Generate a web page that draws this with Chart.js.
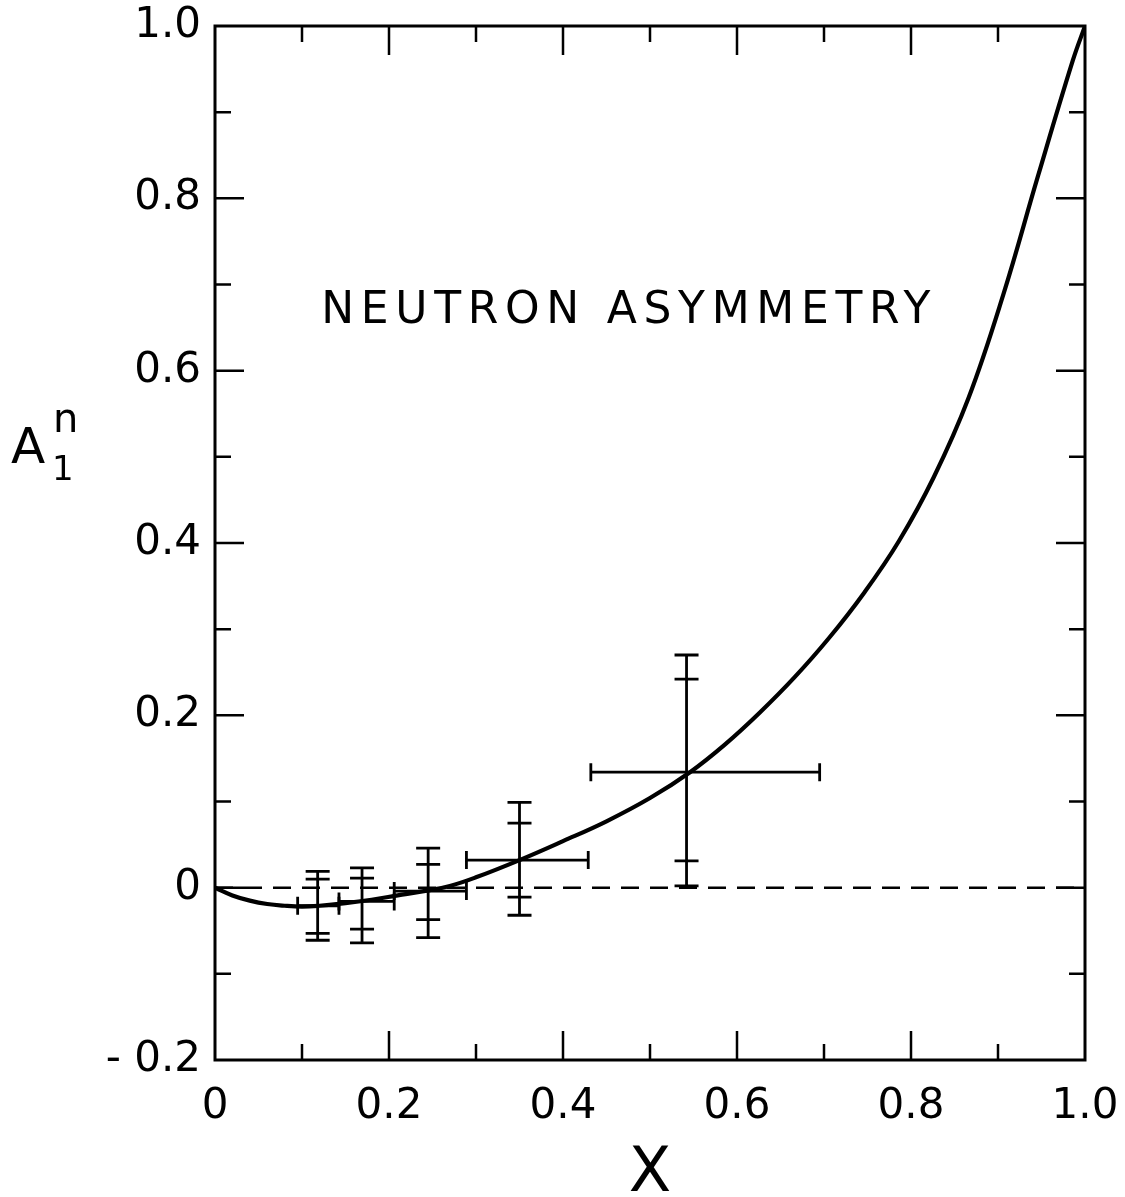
<!DOCTYPE html>
<html>
<head>
<meta charset="utf-8">
<script src="https://cdn.jsdelivr.net/npm/chart.js@4.4.0/dist/chart.umd.min.js"></script>
<style>
  body { margin: 0; background: #fff; }
  #wrap { width: 1125px; height: 1197px; }
</style>
</head>
<body>
<div id="wrap"><canvas id="asym-chart"></canvas></div>
<script>
// data points: centre, x-bin edges, inner (stat) and outer (total) error ranges
const xPts      = [0.118, 0.169, 0.245, 0.350, 0.542];
const yPts      = [-0.021, -0.016, -0.004, 0.032, 0.134];
const xLow      = [0.095, 0.1425, 0.206, 0.289, 0.432];
const xHigh     = [0.1425, 0.206, 0.289, 0.429, 0.695];
const yLowStat  = [-0.053, -0.048, -0.037, -0.011, 0.031];
const yHighStat = [0.010, 0.011, 0.027, 0.075, 0.242];
const yLowTot   = [-0.061, -0.064, -0.058, -0.032, 0.002];
const yHighTot  = [0.019, 0.023, 0.046, 0.099, 0.270];

// model curve
const curveX = [0, 0.02, 0.04, 0.06, 0.08, 0.10, 0.12, 0.15, 0.18, 0.21, 0.24, 0.27, 0.30,
                0.35, 0.40, 0.45, 0.50, 0.546, 0.586, 0.626, 0.666, 0.706, 0.746, 0.786,
                0.826, 0.866, 0.906, 0.946, 0.986, 1.0];
const curveY = [0, -0.009, -0.015, -0.019, -0.021, -0.022, -0.021, -0.018, -0.014, -0.009,
                -0.004, 0.002, 0.012, 0.032, 0.054, 0.077, 0.104, 0.134, 0.166, 0.203,
                0.244, 0.290, 0.342, 0.402, 0.476, 0.568, 0.688, 0.826, 0.960, 1.0];

const xTicks = [0, 0.2, 0.4, 0.6, 0.8, 1.0];
const xTickLabels = ['0', '0.2', '0.4', '0.6', '0.8', '1.0'];
const yTicks = [-0.2, 0, 0.2, 0.4, 0.6, 0.8, 1.0];
const yTickLabels = ['- 0.2', '0', '0.2', '0.4', '0.6', '0.8', '1.0'];
const minorStep = 0.1;

const FONT = "'DejaVu Sans', sans-serif";

function xy(xs, ys) {
  return xs.map(function(x, i) { return { x: x, y: ys[i] }; });
}

// frame, inward ticks, error bars and labels
const decorations = {
  id: 'decorations',
  afterDatasetsDraw(chart) {
    const ctx = chart.ctx;
    const xs = chart.scales.x, ys = chart.scales.y;
    const a = chart.chartArea;
    ctx.save();
    ctx.strokeStyle = '#000';
    ctx.lineCap = 'butt';

    // error bars
    ctx.lineWidth = 2.8;
    const cap = 12, hcap = 9;
    for (let i = 0; i < xPts.length; i++) {
      const px = xs.getPixelForValue(xPts[i]);
      const py = ys.getPixelForValue(yPts[i]);
      const x0 = xs.getPixelForValue(xLow[i]);
      const x1 = xs.getPixelForValue(xHigh[i]);
      const t = ys.getPixelForValue(yHighTot[i]);
      const b = ys.getPixelForValue(yLowTot[i]);
      ctx.beginPath();
      ctx.moveTo(px, t); ctx.lineTo(px, b);
      ctx.moveTo(x0, py); ctx.lineTo(x1, py);
      ctx.moveTo(x0, py - hcap); ctx.lineTo(x0, py + hcap);
      ctx.moveTo(x1, py - hcap); ctx.lineTo(x1, py + hcap);
      [yHighTot[i], yLowTot[i], yHighStat[i], yLowStat[i]].forEach(function(v) {
        const yy = ys.getPixelForValue(v);
        ctx.moveTo(px - cap, yy); ctx.lineTo(px + cap, yy);
      });
      ctx.stroke();
    }

    // inward ticks on all four sides
    ctx.lineWidth = 2.5;
    ctx.beginPath();
    for (let k = 1; k < 10; k++) {
      const v = k * minorStep;
      const len = k % 2 === 0 ? 29 : 16;
      const px = xs.getPixelForValue(v);
      ctx.moveTo(px, a.bottom); ctx.lineTo(px, a.bottom - len);
      ctx.moveTo(px, a.top); ctx.lineTo(px, a.top + len);
    }
    for (let k = -1; k < 10; k++) {
      const v = k * minorStep;
      const len = (k + 2) % 2 === 0 ? 29 : 16;
      const py = ys.getPixelForValue(v);
      ctx.moveTo(a.left, py); ctx.lineTo(a.left + len, py);
      ctx.moveTo(a.right, py); ctx.lineTo(a.right - len, py);
    }
    ctx.stroke();

    // frame
    ctx.lineWidth = 3;
    ctx.strokeRect(a.left, a.top, a.right - a.left, a.bottom - a.top);

    // caption inside the plot
    ctx.fillStyle = '#000';
    ctx.font = '44px ' + FONT;
    ctx.letterSpacing = '6.7px';
    ctx.textAlign = 'center';
    ctx.textBaseline = 'middle';
    ctx.fillText('NEUTRON ASYMMETRY', xs.getPixelForValue(0.476), ys.getPixelForValue(0.669));
    ctx.letterSpacing = '0px';

    // y axis label A_1^n
    ctx.textAlign = 'left';
    ctx.textBaseline = 'alphabetic';
    ctx.font = '50px ' + FONT;
    ctx.fillText('A', 11, 463);
    ctx.font = '40px ' + FONT;
    ctx.fillText('n', 53, 432);
    ctx.font = '34px ' + FONT;
    ctx.fillText('1', 52, 480);
    ctx.restore();
  }
};

new Chart(document.getElementById('asym-chart'), {
  type: 'scatter',
  data: {
    datasets: [
      {
        label: 'model',
        data: xy(curveX, curveY),
        showLine: true,
        borderColor: '#000',
        borderWidth: 4.2,
        pointRadius: 0,
        tension: 0.4
      },
      {
        label: 'zero',
        data: xy([0, 1], [0, 0]),
        showLine: true,
        borderColor: '#000',
        borderWidth: 2.5,
        borderDash: [18, 11],
        pointRadius: 0
      },
      {
        label: 'data',
        data: xy(xPts, yPts),
        pointRadius: 0
      }
    ]
  },
  options: {
    responsive: true,
    maintainAspectRatio: false,
    animation: false,
    layout: { padding: { left: 0, right: 40, top: 26, bottom: 0 } },
    plugins: { legend: { display: false }, tooltip: { enabled: false } },
    scales: {
      x: {
        type: 'linear',
        min: 0, max: 1.0,
        afterFit: function(s) { s.height = 137; s.paddingLeft = 0; s.paddingRight = 0; },
        afterBuildTicks: function(s) { s.ticks = xTicks.map(function(v) { return { value: v }; }); },
        grid: { display: false, drawTicks: false },
        border: { display: false },
        ticks: {
          color: '#000',
          font: { family: FONT, size: 42 },
          padding: 22,
          maxRotation: 0,
          callback: function(v, i) { return xTickLabels[i]; }
        },
        title: {
          display: true,
          text: 'X',
          color: '#000',
          font: { family: FONT, size: 62, lineHeight: 0.7 },
          padding: { top: 0, bottom: 0 }
        }
      },
      y: {
        type: 'linear',
        min: -0.2, max: 1.0,
        afterFit: function(s) { s.width = 215; s.paddingTop = 0; s.paddingBottom = 0; },
        afterBuildTicks: function(s) { s.ticks = yTicks.map(function(v) { return { value: v }; }); },
        grid: { display: false, drawTicks: false },
        border: { display: false },
        ticks: {
          color: '#000',
          font: { family: FONT, size: 42 },
          padding: 14,
          callback: function(v, i) { return yTickLabels[i]; }
        }
      }
    }
  },
  plugins: [decorations]
});
</script>
</body>
</html>
